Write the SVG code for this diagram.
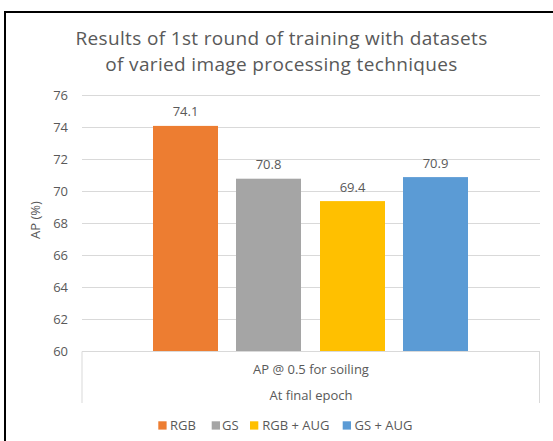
<svg xmlns="http://www.w3.org/2000/svg" width="553" height="441" viewBox="0 0 553 441">
  <style>
    text { font-family: "Open Sans", "Liberation Sans", sans-serif; fill: #595959; }
    .title { font-size: 19px; letter-spacing: 0.35px; text-anchor: middle; }
    .tick { font-size: 13px; text-anchor: end; }
    .val { font-size: 13px; text-anchor: middle; }
    .cat { font-size: 13px; text-anchor: middle; }
    .leg { font-size: 13px; }
    .grid { stroke: #d9d9d9; stroke-width: 1; fill: none; }
  </style>
  <rect x="0" y="0" width="553" height="441" fill="#ffffff"/>
  <!-- frame -->
  <path d="M5,441 V12 H553" fill="none" stroke="#000000" stroke-width="2"/>

  <!-- chart title -->
  <g id="title">
    <text class="title" x="281.5" y="45">Results of 1st round of training with datasets</text>
    <text class="title" x="281.5" y="71">of varied image processing techniques</text>
  </g>

  <!-- value axis: gridlines and labels -->
  <g id="value-axis">
    <path class="grid" d="M82,95.5 H540 M82,127.5 H540 M82,159.5 H540 M82,191.5 H540 M82,223.5 H540 M82,255.5 H540 M82,287.5 H540 M82,319.5 H540"/>
    <text class="tick" x="68" y="99.5">76</text>
    <text class="tick" x="68" y="131.5">74</text>
    <text class="tick" x="68" y="163.5">72</text>
    <text class="tick" x="68" y="195.5">70</text>
    <text class="tick" x="68" y="227.5">68</text>
    <text class="tick" x="68" y="259.5">66</text>
    <text class="tick" x="68" y="291.5">64</text>
    <text class="tick" x="68" y="323.5">62</text>
    <text class="tick" x="68" y="355.5">60</text>
    <text class="cat" transform="translate(40,220) rotate(-90)">AP (%)</text>
  </g>

  <!-- bars -->
  <g id="bar-rgb">
    <rect x="153" y="125.9" width="65" height="225.6" fill="#ED7D31"/>
    <text class="val" x="185.5" y="116">74.1</text>
  </g>
  <g id="bar-gs">
    <rect x="236" y="178.7" width="65" height="172.8" fill="#A5A5A5"/>
    <text class="val" x="268.5" y="169">70.8</text>
  </g>
  <g id="bar-rgb-aug">
    <rect x="320" y="201.1" width="65" height="150.4" fill="#FFC000"/>
    <text class="val" x="352.5" y="191.5">69.4</text>
  </g>
  <g id="bar-gs-aug">
    <rect x="403" y="177.1" width="65" height="174.4" fill="#5B9BD5"/>
    <text class="val" x="435.5" y="167.5">70.9</text>
  </g>

  <!-- category axis -->
  <g id="category-axis">
    <path class="grid" d="M82,351.5 H540 M82,351.5 V403 M539.5,351.5 V403"/>
    <text class="cat" x="311" y="373.5">AP @ 0.5 for soiling</text>
    <text class="cat" x="311" y="400">At final epoch</text>
  </g>

  <!-- legend -->
  <g id="legend">
    <rect x="158.3" y="421.3" width="8.3" height="8.3" fill="#ED7D31"/>
    <text class="leg" x="170" y="429.5">RGB</text>
    <rect x="211.7" y="421.3" width="8.3" height="8.3" fill="#A5A5A5"/>
    <text class="leg" x="222" y="429.5">GS</text>
    <rect x="250" y="421.3" width="8.3" height="8.3" fill="#FFC000"/>
    <text class="leg" x="262.3" y="429.5">RGB + AUG</text>
    <rect x="342.7" y="421.3" width="8.3" height="8.3" fill="#5B9BD5"/>
    <text class="leg" x="354.5" y="429.5">GS + AUG</text>
  </g>
</svg>
